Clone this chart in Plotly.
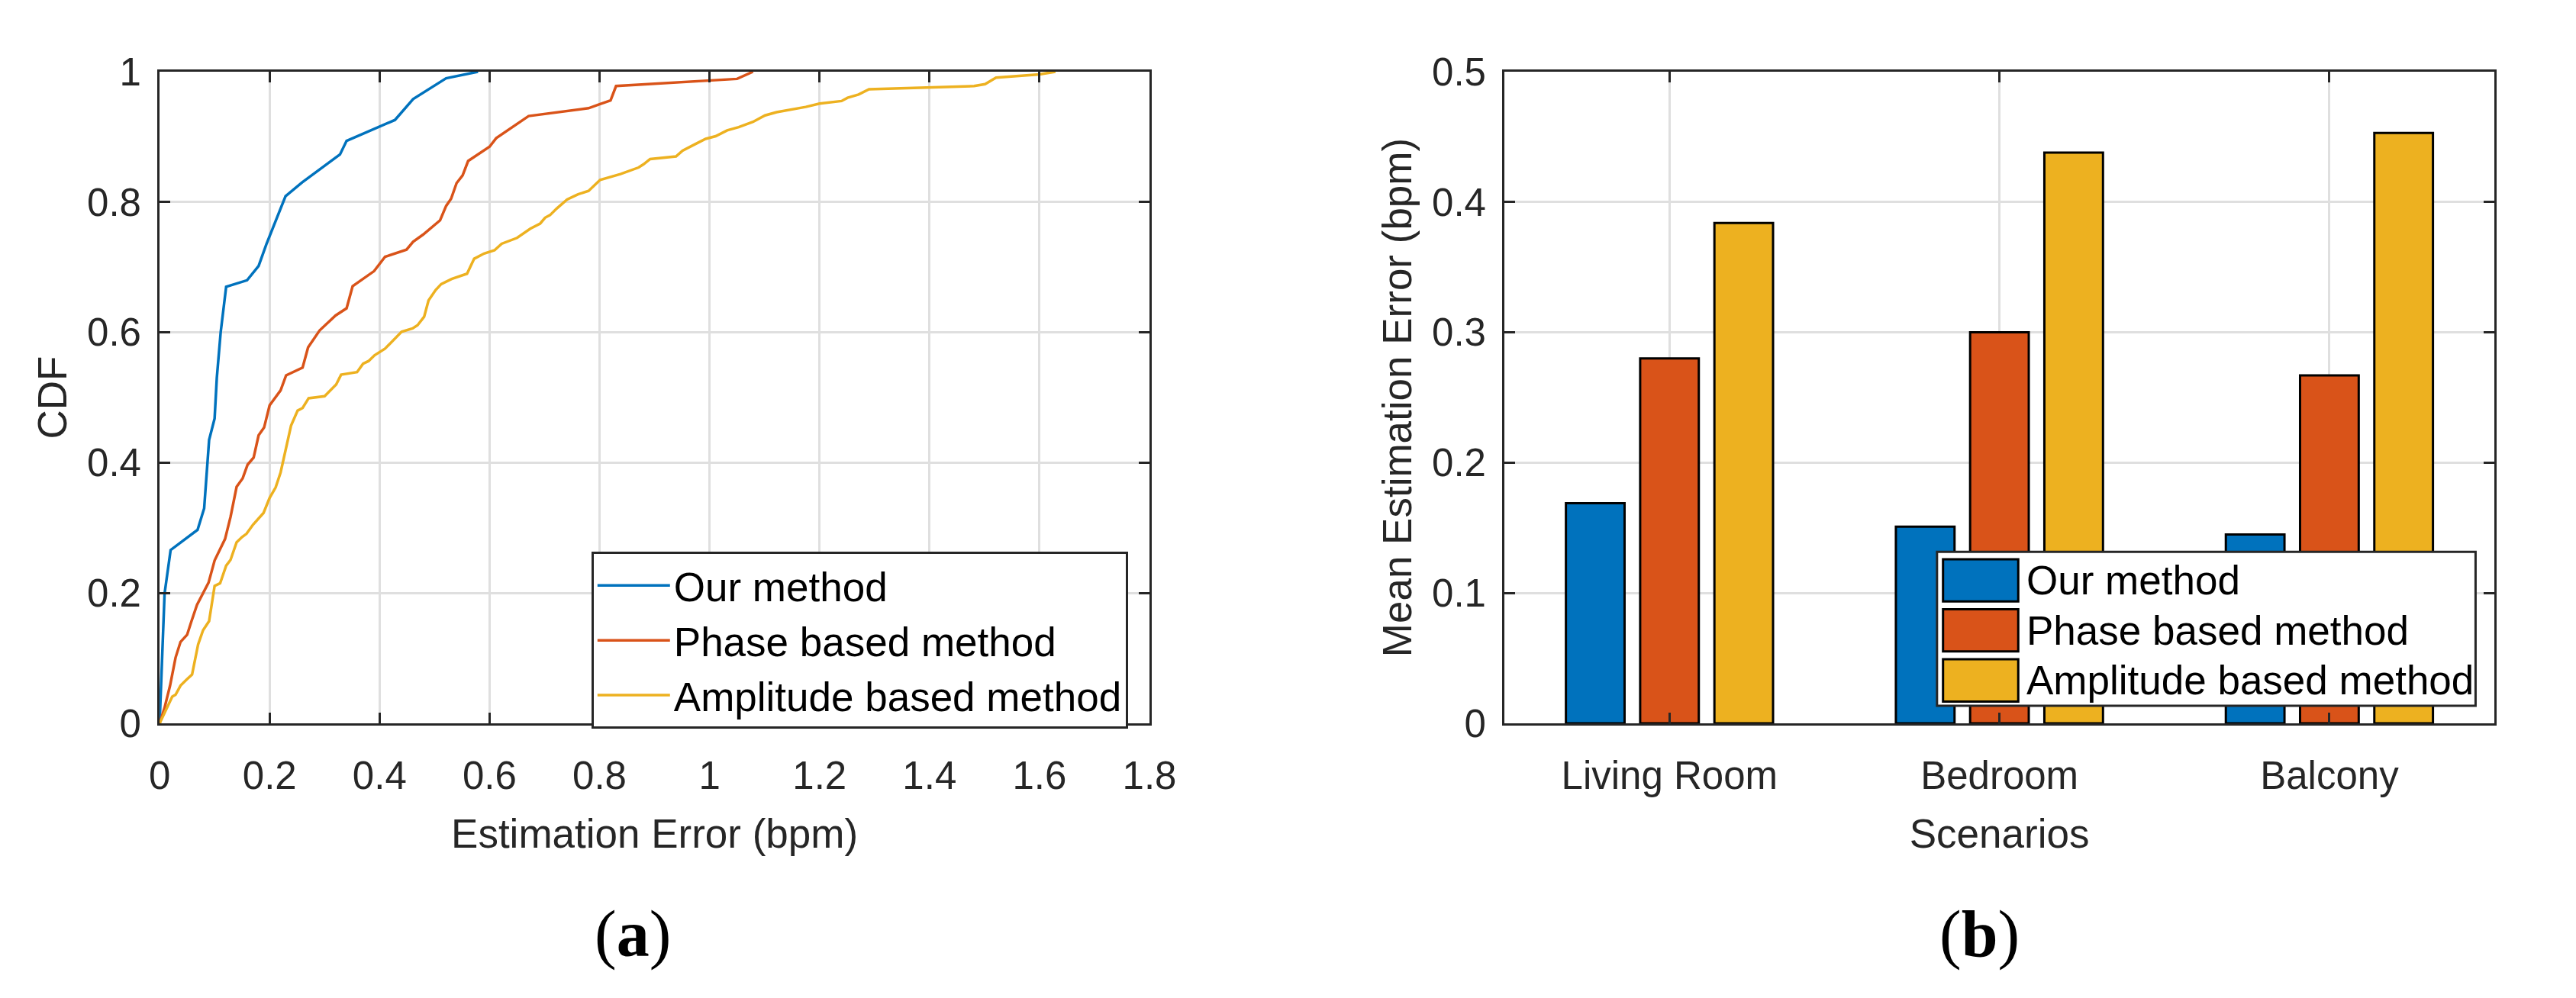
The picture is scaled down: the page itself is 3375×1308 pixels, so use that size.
import plotly.graph_objects as go

# ---------------- data ----------------
series_names = ["Our method", "Phase based method", "Amplitude based method"]
series_colors = ["#0072BD", "#D95319", "#EDB120"]

our_x = [0, 0.009, 0.020, 0.069, 0.081, 0.090, 0.100, 0.104, 0.111, 0.121, 0.159,
         0.180, 0.194, 0.229, 0.259, 0.328, 0.340, 0.428, 0.461, 0.521, 0.579]
our_y = [0, 0.199, 0.266, 0.297, 0.330, 0.435, 0.468, 0.530, 0.600, 0.670, 0.680,
         0.702, 0.735, 0.809, 0.830, 0.873, 0.894, 0.926, 0.958, 0.990, 1.0]

phase_x = [0, 0.009, 0.019, 0.029, 0.038, 0.050, 0.058, 0.068, 0.089, 0.100,
           0.119, 0.129, 0.140, 0.151, 0.160, 0.171, 0.180, 0.190, 0.200, 0.220,
           0.230, 0.260, 0.270, 0.291, 0.320, 0.340, 0.351, 0.390, 0.410, 0.449,
           0.461, 0.479, 0.510, 0.521, 0.530, 0.540, 0.551, 0.561, 0.600, 0.612,
           0.671, 0.780, 0.800, 0.820, 0.830, 1.050, 1.079]
phase_y = [0, 0.024, 0.058, 0.101, 0.125, 0.136, 0.157, 0.182, 0.216, 0.250,
           0.283, 0.317, 0.363, 0.376, 0.397, 0.408, 0.442, 0.454, 0.488, 0.511,
           0.534, 0.546, 0.577, 0.603, 0.626, 0.637, 0.671, 0.694, 0.716, 0.727,
           0.739, 0.750, 0.772, 0.794, 0.805, 0.829, 0.841, 0.863, 0.885, 0.898,
           0.932, 0.944, 0.950, 0.956, 0.978, 0.989, 1.0]

amp_x = [0, 0.012, 0.023, 0.029, 0.038, 0.049, 0.059, 0.070, 0.079, 0.090,
         0.100, 0.110, 0.121, 0.129, 0.140, 0.150, 0.158, 0.170, 0.189, 0.200,
         0.211, 0.220, 0.239, 0.251, 0.260, 0.271, 0.300, 0.321, 0.330, 0.359,
         0.370, 0.380, 0.391, 0.410, 0.426, 0.440, 0.460, 0.469, 0.481, 0.489,
         0.502, 0.512, 0.531, 0.552, 0.559, 0.572, 0.590, 0.609, 0.622, 0.650,
         0.674, 0.692, 0.701, 0.710, 0.722, 0.741, 0.761, 0.780, 0.801, 0.838,
         0.853, 0.871, 0.880, 0.892, 0.939, 0.951, 0.972, 0.993, 1.011, 1.032,
         1.053, 1.079, 1.101, 1.122, 1.175, 1.200, 1.240, 1.251, 1.271, 1.290,
         1.481, 1.501, 1.521, 1.600, 1.629]
amp_y = [0, 0.022, 0.041, 0.044, 0.058, 0.067, 0.075, 0.121, 0.143, 0.157,
         0.211, 0.215, 0.242, 0.251, 0.278, 0.286, 0.291, 0.305, 0.323, 0.346,
         0.362, 0.385, 0.457, 0.480, 0.484, 0.499, 0.502, 0.520, 0.535, 0.539,
         0.552, 0.556, 0.565, 0.575, 0.589, 0.601, 0.606, 0.611, 0.624, 0.649,
         0.665, 0.674, 0.682, 0.688, 0.690, 0.713, 0.721, 0.726, 0.736, 0.745,
         0.759, 0.767, 0.776, 0.780, 0.790, 0.804, 0.812, 0.817, 0.834, 0.843,
         0.848, 0.853, 0.858, 0.866, 0.870, 0.879, 0.888, 0.897, 0.901, 0.910,
         0.915, 0.923, 0.933, 0.938, 0.946, 0.951, 0.955, 0.960, 0.965, 0.973,
         0.978, 0.981, 0.991, 0.996, 1.0]

scenarios = ["Living Room", "Bedroom", "Balcony"]
bar_our = [0.169, 0.151, 0.145]
bar_phase = [0.280, 0.300, 0.267]
bar_amp = [0.384, 0.438, 0.453]

# ---------------- figure ----------------
W, H = 3375, 1308
FONT = "Liberation Sans, Arial, Helvetica, sans-serif"
AX = "#262626"
GRID = "#dfdfdf"
TICK_SIZE = 51
LABEL_SIZE = 53
LEG_SIZE = 53


def px_x(p):
    return p / W


def px_y(p):
    return 1 - p / H


fig = go.Figure()

cdf_series = [(our_x, our_y), (phase_x, phase_y), (amp_x, amp_y)]
for (xs, ys), name, col in zip(cdf_series, series_names, series_colors):
    fig.add_trace(go.Scatter(x=xs, y=ys, mode="lines", name=name,
                             line=dict(color=col, width=3.5),
                             xaxis="x", yaxis="y", legend="legend"))

for vals, name, col in zip([bar_our, bar_phase, bar_amp], series_names, series_colors):
    fig.add_trace(go.Bar(x=scenarios, y=vals, name=name, showlegend=False,
                         marker=dict(color=col, line=dict(color="black", width=3)),
                         xaxis="x2", yaxis="y2"))

axis_common = dict(
    showline=True, linecolor=AX, linewidth=3, mirror="ticks",
    ticks="inside", ticklen=14, tickwidth=3, tickcolor=AX,
    showgrid=True, gridcolor=GRID, gridwidth=3, zeroline=False,
    tickfont=dict(family=FONT, size=TICK_SIZE, color=AX),
    title_font=dict(family=FONT, size=LABEL_SIZE, color=AX),
)

fig.update_layout(
    width=W, height=H, autosize=False,
    margin=dict(l=0, r=0, t=0, b=0, pad=0),
    paper_bgcolor="white", plot_bgcolor="white",
    font=dict(family=FONT, color=AX),
    barmode="group", bargap=0.325, bargroupgap=0.21,
    xaxis=dict(domain=[px_x(198), px_x(1514)], range=[0, 1.8], dtick=0.2,
               anchor="y", title=dict(text="Estimation Error (bpm)", standoff=30),
               ticklabelstandoff=22, **axis_common),
    yaxis=dict(domain=[px_y(962), px_y(69)], range=[0, 1], dtick=0.2,
               anchor="x", title=dict(text="CDF", standoff=10),
               ticklabelstandoff=11, **axis_common),
    xaxis2=dict(domain=[px_x(1986), px_x(3302)], range=[-0.5, 2.5],
                anchor="y2", title=dict(text="Scenarios", standoff=30),
                ticklabelstandoff=22, **axis_common),
    yaxis2=dict(domain=[px_y(962), px_y(69)], range=[0, 0.5], dtick=0.1,
                anchor="x2", title=dict(text="Mean Estimation Error (bpm)", standoff=10),
                ticklabelstandoff=11, **axis_common),
    legend=dict(x=px_x(772), y=px_y(727), xanchor="left", yanchor="top",
                bgcolor="white", bordercolor=AX, borderwidth=3,
                font=dict(family=FONT, size=LEG_SIZE, color="black"),
                itemwidth=95, tracegroupgap=0),
)

# ---- manual legend for the bar chart (large patches as in the original) ----
leg_x0, leg_x1, leg_y0, leg_y1 = 2561, 3277, 727, 938
fig.add_shape(type="rect", xref="paper", yref="paper",
              x0=px_x(leg_x0), x1=px_x(leg_x1), y0=px_y(leg_y1), y1=px_y(leg_y0),
              line=dict(color=AX, width=3), fillcolor="white", layer="above")
row_h = 68.5
first_center = 766
for i, (name, col) in enumerate(zip(series_names, series_colors)):
    cy = first_center + i * row_h
    fig.add_shape(type="rect", xref="paper", yref="paper",
                  x0=px_x(2569), x1=px_x(2669), y0=px_y(cy + 29), y1=px_y(cy - 29),
                  line=dict(color="black", width=3), fillcolor=col, layer="above")
    fig.add_annotation(xref="paper", yref="paper", x=px_x(2678), y=px_y(cy),
                       xanchor="left", yanchor="middle", text=name, showarrow=False,
                       font=dict(family=FONT, size=LEG_SIZE, color="black"))

# ---- sub-figure captions ----
CAP_FONT = "Liberation Serif, DejaVu Serif, serif"
for txt, cx in [("(<b>a</b>)", 827), ("(<b>b</b>)", 2617)]:
    fig.add_annotation(xref="paper", yref="paper", x=px_x(cx), y=px_y(1250),
                       xanchor="center", yanchor="middle", text=txt, showarrow=False,
                       font=dict(family=CAP_FONT, size=86, color="black"))

fig.write_html("out.html", config={"displayModeBar": False},
               post_script="document.body.style.margin='0';")
